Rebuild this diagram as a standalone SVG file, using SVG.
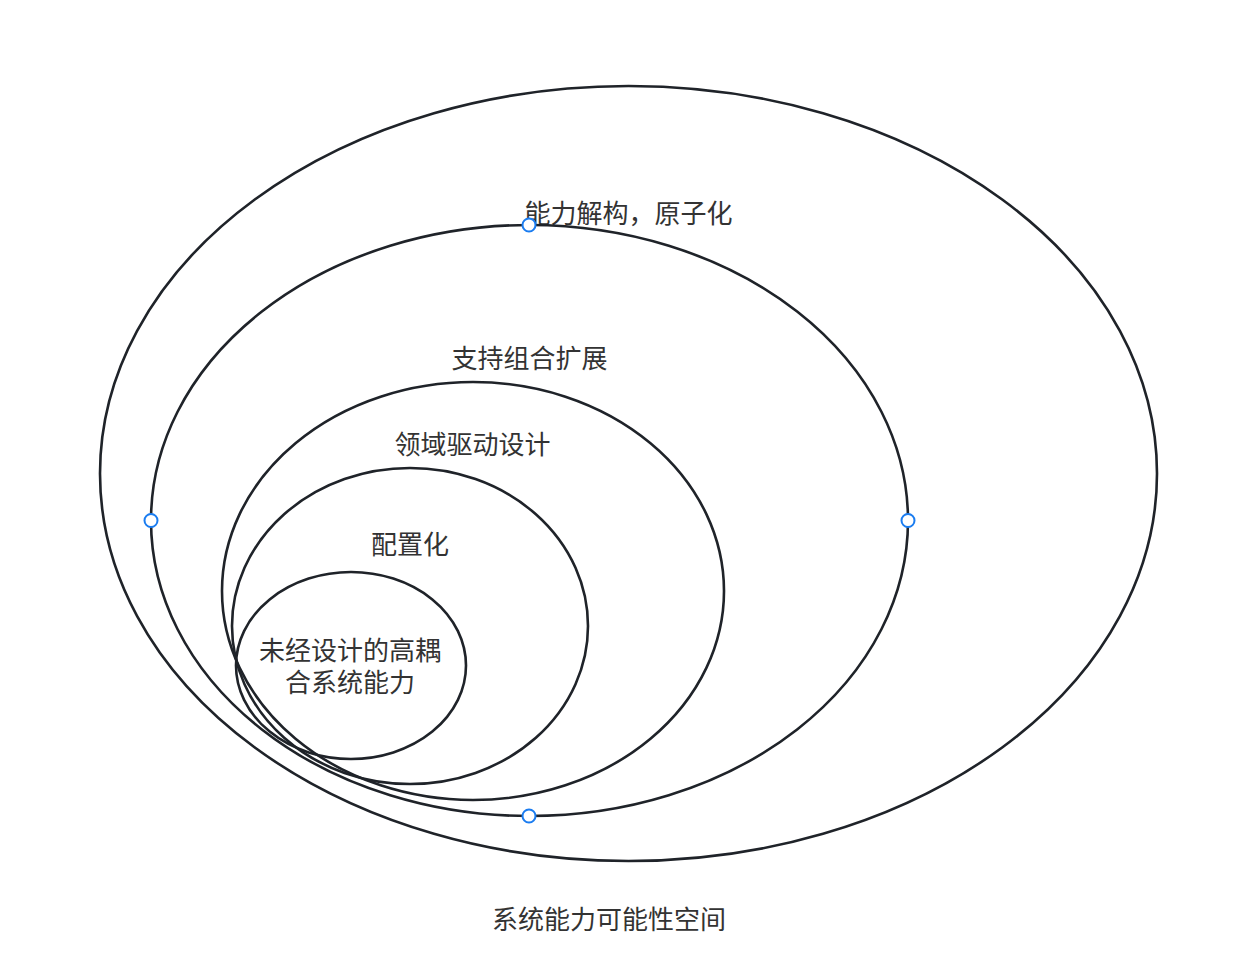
<svg xmlns="http://www.w3.org/2000/svg" width="1239" height="965" viewBox="0 0 1239 965">
<style>
.sh{fill:none;stroke:#1f2329;stroke-width:2.6}
.t{font-family:"Noto Sans CJK SC","Liberation Sans",sans-serif;font-size:26px;fill:#333;text-anchor:middle}
.h{fill:#fff;stroke:#1a7cf0;stroke-width:2}
</style>
<rect width="1239" height="965" fill="#fff"/>
<g id="n1"><ellipse class="sh" cx="628.5" cy="473.5" rx="528.5" ry="387.5"/><text class="t" x="628.5" y="223">能力解构，原子化</text></g>
<g id="n2"><ellipse class="sh" cx="529.5" cy="520.5" rx="378.5" ry="295.5"/><text class="t" x="529.5" y="368">支持组合扩展</text></g>
<g id="n3"><ellipse class="sh" cx="473" cy="591" rx="251" ry="209"/><text class="t" x="472.5" y="454">领域驱动设计</text></g>
<g id="n4"><ellipse class="sh" cx="410" cy="626" rx="178" ry="158"/><text class="t" x="410" y="554">配置化</text></g>
<g id="n5"><ellipse class="sh" cx="351" cy="665.5" rx="115" ry="93.5"/><text class="t" x="350" y="660">未经设计的高耦<tspan x="350" dy="32">合系统能力</tspan></text></g>
<g id="label"><text class="t" x="609" y="929">系统能力可能性空间</text></g>
<g id="handles">
<circle class="h" cx="529" cy="225" r="6.5"/>
<circle class="h" cx="151" cy="520.5" r="6.5"/>
<circle class="h" cx="908" cy="520.5" r="6.5"/>
<circle class="h" cx="529" cy="816" r="6.5"/>
</g>
<g id="connectors"></g>
</svg>
